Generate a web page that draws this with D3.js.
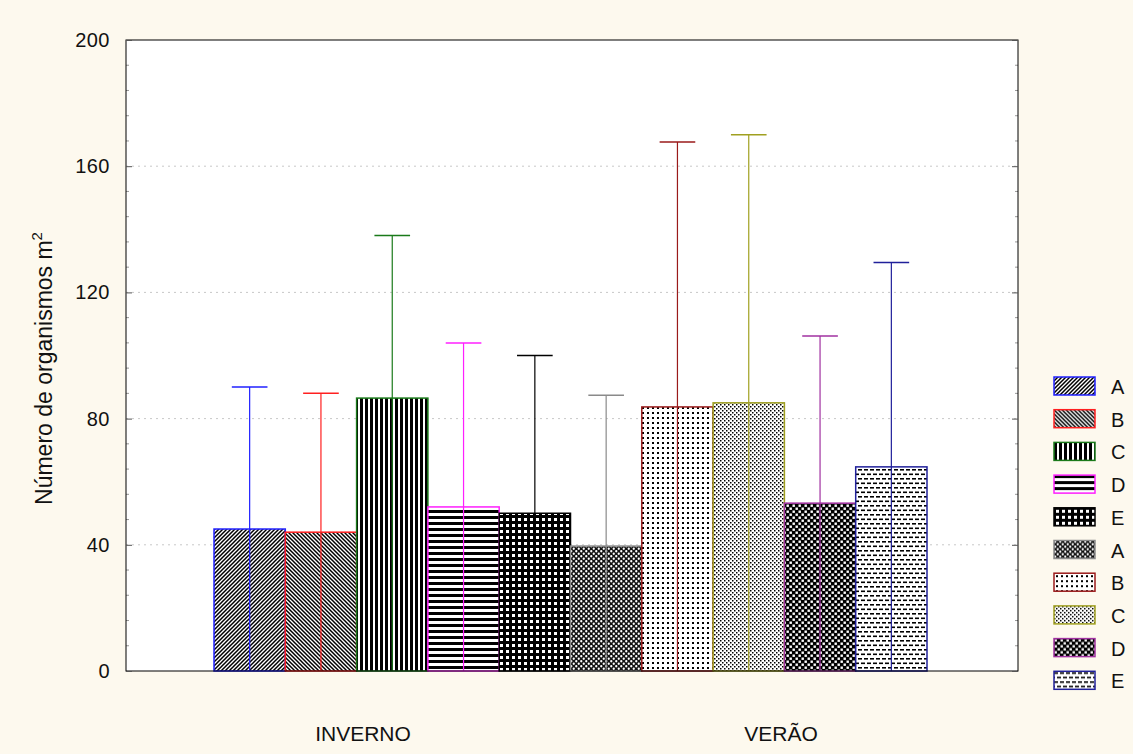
<!DOCTYPE html>
<html>
<head>
<meta charset="utf-8">
<script src="https://cdn.jsdelivr.net/npm/d3@7"></script>
<style>
  html, body { margin: 0; padding: 0; background: #fdf9ee; }
  svg { display: block; font-family: "Liberation Sans", Arial, sans-serif; }
</style>
</head>
<body>
<svg id="chart" width="1133" height="754"></svg>
<script>
// Seasons shown on the x axis
const seasons = ["INVERNO", "VERÃO"];
// One bar per site and season, in drawing order
const seriesLabels = ["A", "B", "C", "D", "E", "A", "B", "C", "D", "E"];
// Mean number of organisms per m²
const means = [45, 44, 86.5, 52, 50, 39.6, 83.7, 85, 53.2, 64.7];
// Upper end of the error bar
const upper = [90, 88, 138, 104, 100, 87.4, 167.7, 170, 106.2, 129.5];
// Y axis tick values
const yTicks = [0, 40, 80, 120, 160, 200];

const strokeColors = ["#2020ff", "#ff2020", "#1a7a1a", "#ff20ff", "#000000",
                      "#8a8a8a", "#9a1a1a", "#a0a020", "#a030a0", "#20209a"];
const patternIds = ["pA1", "pB1", "pC1", "pD1", "pE1", "pA2", "pB2", "pC2", "pD2", "pE2"];

const svg = d3.select("#chart");
const plot = { left: 126, right: 1018, top: 40, bottom: 671 };

// ---- fill patterns ----
const defs = svg.append("defs");
function pat(id, w, h, bg) {
  const p = defs.append("pattern").attr("id", id).attr("patternUnits", "userSpaceOnUse")
    .attr("width", w).attr("height", h);
  p.append("rect").attr("width", w).attr("height", h).attr("fill", bg);
  return p;
}
function sq(p, x, y, w, h, c) {
  p.append("rect").attr("x", x).attr("y", y).attr("width", w).attr("height", h).attr("fill", c);
}
// A: forward diagonal hatch
pat("pA1", 4, 4, "#fff").append("path")
  .attr("d", "M-1,1 L1,-1 M0,4 L4,0 M3,5 L5,3").attr("stroke", "#000").attr("stroke-width", 1.5);
// B: backward diagonal hatch
pat("pB1", 4, 4, "#fff").append("path")
  .attr("d", "M-1,3 L1,5 M0,0 L4,4 M3,-1 L5,1").attr("stroke", "#000").attr("stroke-width", 1.5);
// C: vertical lines
sq(pat("pC1", 5, 5, "#fff"), 0, 0, 3, 5, "#000");
// D: horizontal lines
sq(pat("pD1", 6, 6, "#fff"), 0, 0, 6, 3, "#000");
// E: heavy grid
sq(pat("pE1", 6, 6, "#000"), 2, 2, 3, 3, "#fff");
// A (second season): dense cross-hatch
{
  const p = pat("pA2", 5, 5, "#111");
  p.append("circle").attr("cx", 1.25).attr("cy", 1.25).attr("r", 1.15).attr("fill", "#fff");
  p.append("circle").attr("cx", 3.75).attr("cy", 3.75).attr("r", 1.15).attr("fill", "#fff");
}
// B (second season): coarse dots
sq(pat("pB2", 5, 5, "#fff"), 2, 2, 2, 2, "#000");
// C (second season): fine staggered dots
{
  const p = pat("pC2", 4, 4, "#fff");
  sq(p, 0, 0, 1.5, 1.5, "#000");
  sq(p, 2, 2, 1.5, 1.5, "#000");
}
// D (second season): checkerboard
{
  const p = pat("pD2", 6, 6, "#000");
  sq(p, 0.5, 0.5, 2.4, 2.4, "#fff");
  sq(p, 3.5, 3.5, 2.4, 2.4, "#fff");
}
// E (second season): brick dashes
{
  const p = pat("pE2", 6, 9, "#fff");
  sq(p, 0, 1, 4, 1.6, "#000");
  sq(p, 3, 5.5, 4, 1.6, "#000");
  sq(p, -3, 5.5, 4, 1.6, "#000");
}

// ---- scales ----
const y = d3.scaleLinear().domain([0, 200]).range([plot.bottom, plot.top]);
const xBar = d3.scaleBand().domain(d3.range(means.length)).range([214, 927]).padding(0);
const xSeason = d3.scalePoint().domain(seasons).range([plot.left, plot.right]).padding(0.567);

// plot background
svg.append("rect").attr("x", plot.left).attr("y", plot.top)
  .attr("width", plot.right - plot.left).attr("height", plot.bottom - plot.top).attr("fill", "#fff");

// dotted grid lines
svg.append("g").selectAll("line").data(yTicks.filter(d => d > 0 && d < 200)).join("line")
  .attr("x1", plot.left).attr("x2", plot.right)
  .attr("y1", d => y(d)).attr("y2", d => y(d))
  .attr("stroke", "#c8c8c8").attr("stroke-width", 1).attr("stroke-dasharray", "2,4");

// bars
const bars = svg.append("g");
bars.selectAll("rect").data(means).join("rect")
  .attr("x", (d, i) => xBar(i))
  .attr("y", d => y(d))
  .attr("width", xBar.bandwidth())
  .attr("height", d => y(0) - y(d))
  .attr("fill", (d, i) => `url(#${patternIds[i]})`)
  .attr("stroke", (d, i) => strokeColors[i])
  .attr("stroke-width", 1.5);

// error bars (upward whiskers with caps)
const eb = svg.append("g");
const capHalf = xBar.bandwidth() * 0.25;
eb.selectAll("line.stem").data(upper).join("line").attr("class", "stem")
  .attr("x1", (d, i) => xBar(i) + xBar.bandwidth() / 2)
  .attr("x2", (d, i) => xBar(i) + xBar.bandwidth() / 2)
  .attr("y1", y(0)).attr("y2", d => y(d))
  .attr("stroke", (d, i) => strokeColors[i]).attr("stroke-width", 1.2);
eb.selectAll("line.cap").data(upper).join("line").attr("class", "cap")
  .attr("x1", (d, i) => xBar(i) + xBar.bandwidth() / 2 - capHalf)
  .attr("x2", (d, i) => xBar(i) + xBar.bandwidth() / 2 + capHalf)
  .attr("y1", d => y(d)).attr("y2", d => y(d))
  .attr("stroke", (d, i) => strokeColors[i]).attr("stroke-width", 1.5);

// minor ticks (inside)
const minor = d3.range(0, 200.01, 8).filter(v => v % 40 !== 0);
svg.append("g").selectAll("line").data(minor).join("line")
  .attr("x1", plot.left).attr("x2", plot.left + 3)
  .attr("y1", d => y(d)).attr("y2", d => y(d))
  .attr("stroke", "#999");
svg.append("g").selectAll("line").data(minor).join("line")
  .attr("x1", plot.right - 3).attr("x2", plot.right)
  .attr("y1", d => y(d)).attr("y2", d => y(d))
  .attr("stroke", "#999");

// frame
svg.append("rect").attr("x", plot.left).attr("y", plot.top)
  .attr("width", plot.right - plot.left).attr("height", plot.bottom - plot.top)
  .attr("fill", "none").attr("stroke", "#000").attr("stroke-width", 1);

// left axis
const yAxis = svg.append("g").attr("transform", `translate(${plot.left},0)`)
  .call(d3.axisLeft(y).tickValues(yTicks).tickSize(-6).tickPadding(16));
yAxis.select(".domain").remove();
yAxis.selectAll(".tick line").attr("stroke", "#555");
yAxis.selectAll("text").attr("font-size", 20).attr("fill", "#111")
  .attr("font-family", "'Liberation Sans', Arial, sans-serif").attr("letter-spacing", 0.5);
// right axis ticks
const yAxisR = svg.append("g").attr("transform", `translate(${plot.right},0)`)
  .call(d3.axisRight(y).tickValues(yTicks).tickSize(-6).tickFormat(""));
yAxisR.select(".domain").remove();
yAxisR.selectAll(".tick line").attr("stroke", "#555");

// season labels
svg.append("g").selectAll("text").data(seasons).join("text")
  .attr("x", d => xSeason(d)).attr("y", 741)
  .attr("text-anchor", "middle").attr("font-size", 21)
  .attr("fill", "#111").text(d => d);

// y axis title
const yt = svg.append("text")
  .attr("transform", `translate(52,${(plot.top + plot.bottom) / 2 + 13}) rotate(-90)`)
  .attr("text-anchor", "middle").attr("font-size", 23).attr("fill", "#111");
yt.append("tspan").text("Número de organismos m");
yt.append("tspan").attr("dy", -10).attr("font-size", 15).text("2");

// legend
const lg = svg.append("g");
const items = lg.selectAll("g").data(seriesLabels).join("g")
  .attr("transform", (d, i) => `translate(1054,${377 + i * 32.7})`);
items.append("rect").attr("width", 41).attr("height", 18)
  .attr("fill", (d, i) => `url(#${patternIds[i]})`)
  .attr("stroke", (d, i) => strokeColors[i]).attr("stroke-width", 1.5);
items.append("text").attr("x", 57).attr("y", 17).attr("font-size", 20)
  .attr("fill", "#111").text(d => d);
</script>
</body>
</html>
